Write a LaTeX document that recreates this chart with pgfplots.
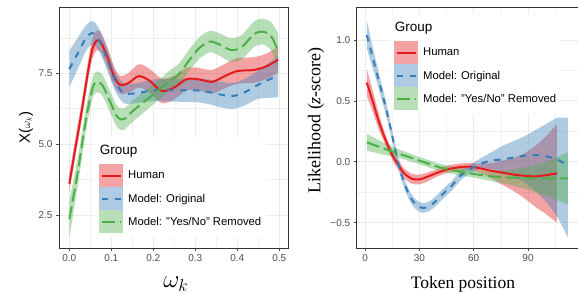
\documentclass[border=0pt]{standalone}
\usepackage{pgfplots}
\pgfplotsset{compat=1.18}
\usepgfplotslibrary{fillbetween}
\usepackage{fontspec}
\setmainfont{Liberation Sans}
\newfontfamily\serifFont{Liberation Serif}
\definecolor{cred}{HTML}{E41A1C}
\definecolor{cblue}{HTML}{377EB8}
\definecolor{cgreen}{HTML}{4DAF4A}

% ---------- left panel data: x  y  lo  hi ----------
\pgfplotstableread{
x y lo hi
0     3.60 3.30 3.95
0.015 4.90 4.60 5.25
0.03  6.20 5.88 6.55
0.045 7.60 7.27 7.95
0.055 8.35 8.00 8.70
0.065 8.65 8.30 9.00
0.075 8.60 8.25 8.95
0.09  8.10 7.75 8.45
0.105 7.45 7.12 7.80
0.12  7.10 6.80 7.42
0.14  7.15 6.80 7.50
0.165 7.40 7.00 7.82
0.19  7.25 6.83 7.67
0.22  6.88 6.45 7.32
0.25  7.00 6.58 7.42
0.28  7.30 6.90 7.70
0.31  7.28 6.88 7.68
0.34  7.20 6.78 7.62
0.37  7.40 6.97 7.83
0.40  7.58 7.13 8.03
0.44  7.62 7.17 8.07
0.47  7.75 7.30 8.20
0.497 7.98 7.52 8.44
}\humL
\pgfplotstableread{
x y lo hi
0     7.65 7.00 8.30
0.02  8.20 7.65 8.75
0.04  8.75 8.30 9.20
0.055 8.92 8.50 9.34
0.07  8.70 8.30 9.10
0.09  8.00 7.62 8.38
0.11  7.20 6.85 7.55
0.13  6.80 6.45 7.15
0.16  6.80 6.45 7.15
0.20  6.90 6.52 7.28
0.25  6.90 6.50 7.30
0.30  6.90 6.48 7.32
0.33  6.85 6.42 7.28
0.36  6.75 6.30 7.20
0.39  6.70 6.24 7.16
0.42  6.85 6.38 7.32
0.45  7.10 6.60 7.60
0.497 7.42 6.65 8.10
}\oriL
\pgfplotstableread{
x y lo hi
0     2.35 1.70 3.00
0.02  4.00 3.50 4.50
0.04  5.90 5.50 6.30
0.055 6.95 6.58 7.32
0.065 7.20 6.83 7.57
0.08  7.05 6.68 7.42
0.10  6.40 6.03 6.77
0.115 5.95 5.58 6.32
0.13  5.88 5.50 6.26
0.15  6.15 5.78 6.52
0.17  6.40 6.03 6.77
0.20  6.75 6.40 7.10
0.22  7.00 6.65 7.35
0.24  7.25 6.89 7.61
0.26  7.45 7.08 7.82
0.285 7.95 7.57 8.33
0.31  8.40 8.02 8.78
0.335 8.62 8.24 9.00
0.36  8.50 8.10 8.90
0.385 8.32 7.90 8.74
0.41  8.42 7.99 8.85
0.44  8.88 8.43 9.33
0.46  8.97 8.52 9.42
0.48  8.82 8.32 9.32
0.497 8.30 7.68 8.92
}\remL

% ---------- right panel data ----------
\pgfplotstableread{
x y lo hi
1   0.65 0.54 0.76
4   0.51 0.42 0.60
7   0.36 0.29 0.43
10  0.23 0.18 0.28
13  0.12 0.08 0.16
16  0.03 -0.01 0.07
19  -0.04 -0.08 0.00
22  -0.10 -0.14 -0.06
26  -0.14 -0.18 -0.10
30  -0.145 -0.185 -0.105
34  -0.125 -0.165 -0.09
40  -0.09 -0.12 -0.06
46  -0.06 -0.09 -0.03
52  -0.045 -0.075 -0.015
58  -0.04 -0.07 -0.01
64  -0.055 -0.095 -0.015
70  -0.075 -0.14 -0.01
76  -0.09 -0.19 0.01
82  -0.105 -0.24 0.03
88  -0.115 -0.30 0.07
94  -0.12 -0.37 0.13
100 -0.11 -0.43 0.21
106 -0.095 -0.50 0.31
}\humR
\pgfplotstableread{
x y lo hi
1   1.04 0.93 1.16
4   0.87 0.78 0.96
7   0.70 0.63 0.77
10  0.53 0.47 0.59
13  0.35 0.30 0.40
16  0.145 0.105 0.185
19  -0.05 -0.09 -0.01
22  -0.19 -0.23 -0.15
25  -0.29 -0.33 -0.25
28  -0.35 -0.39 -0.31
32  -0.38 -0.42 -0.34
36  -0.36 -0.40 -0.32
40  -0.31 -0.35 -0.27
44  -0.25 -0.29 -0.21
48  -0.195 -0.235 -0.155
53  -0.11 -0.15 -0.07
58  -0.06 -0.095 -0.025
64  -0.015 -0.06 0.03
70  0.01 -0.06 0.08
76  0.02 -0.09 0.13
82  0.035 -0.12 0.17
88  0.05 -0.17 0.21
94  0.055 -0.24 0.26
100 0.045 -0.33 0.31
106 0.02 -0.45 0.36
112 -0.03 -0.62 0.36
}\oriR
\pgfplotstableread{
x y lo hi
1   0.16 0.09 0.23
10  0.11 0.06 0.16
20  0.06 0.025 0.095
30  0.01 -0.02 0.04
40  -0.04 -0.07 -0.01
50  -0.075 -0.105 -0.045
60  -0.10 -0.13 -0.07
70  -0.12 -0.16 -0.08
80  -0.13 -0.19 -0.07
90  -0.135 -0.23 -0.04
100 -0.137 -0.28 0.00
112 -0.137 -0.35 0.08
}\remR

\pgfplotsset{
  ggstyle/.style={
    scale only axis,
    axis line style={black!80, line width=0.8pt},
    axis background/.style={fill=white},
    grid=both,
    major grid style={gray!16, line width=0.9pt},
    minor grid style={gray!12, line width=0.5pt},
    tick align=outside, tick pos=left,
    major tick length=3pt, minor tick length=0pt,
    tick style={black!70, line width=0.6pt},
    ticklabel style={font=\fontsize{10}{11}\selectfont, text=black!70},
    /pgf/number format/assume math mode=true,
    legend cell align=left,
    legend style={draw=none, fill=white, inner sep=4pt, row sep=0pt,
      column sep=4pt, font=\fontsize{11.3}{12}\selectfont,
      nodes={inner sep=1pt}},
  },
  redkey/.style={legend image code/.code={
      \fill[cred!40, draw=none] (0pt,-11.5pt) rectangle (24pt,11.5pt);
      \draw[cred, line width=2pt] (2.5pt,0pt) -- (21.5pt,0pt);}},
  bluekey/.style={legend image code/.code={
      \fill[cblue!40, draw=none] (0pt,-11.5pt) rectangle (24pt,11.5pt);
      \draw[cblue, line width=2pt, dash pattern=on 6.5pt off 6.5pt] (2.5pt,0pt) -- (21.5pt,0pt);}},
  greenkey/.style={legend image code/.code={
      \fill[cgreen!40, draw=none] (0pt,-11.5pt) rectangle (24pt,11.5pt);
      \draw[cgreen, line width=2pt, dash pattern=on 13pt off 5pt] (2.5pt,0pt) -- (21.5pt,0pt);}},
  titlekey/.style={legend image code/.code={
      \path[draw=none, fill=none] (0pt,-10pt) rectangle (24pt,13pt);
      \node[overlay, draw=none, fill=none, anchor=base west, inner sep=0pt, font=\fontsize{13.5}{15}\selectfont] at (0.5pt,0pt) {Group};}},
}

\newcommand{\ribbon}[3]{% table, color, name
  \addplot[name path=#3u, draw=none, forget plot, smooth] table[x=x,y=hi]{#1};
  \addplot[name path=#3l, draw=none, forget plot, smooth] table[x=x,y=lo]{#1};
  \addplot[fill=#2, fill opacity=0.4, draw=none, forget plot] fill between[of=#3u and #3l];
}

\begin{document}
\begin{tikzpicture}

% ================= LEFT =================
\begin{axis}[ggstyle,
  at={(59pt,46pt)}, anchor=south west,
  width=229pt, height=241pt,
  xmin=-0.0245, xmax=0.5207, ymin=1.336, ymax=9.84,
  xtick={0,0.1,0.2,0.3,0.4,0.5}, xticklabels={0.0,0.1,0.2,0.3,0.4,0.5},
  ytick={2.5,5,7.5}, yticklabels={2.5,5.0,7.5},
  minor xtick={0.05,0.15,0.25,0.35,0.45},
  minor ytick={3.75,6.25,8.75},
  xlabel={$\omega_k$},
  xlabel style={font=\fontsize{23}{25}\selectfont, at={(axis description cs:0.51,-0.15)}, anchor=center},
  ylabel={X({\fontsize{10.5}{12}\selectfont$\omega_k$})},
  ylabel style={font=\fontsize{15}{17}\selectfont, at={(axis description cs:-0.144,0.5)}, anchor=center},
  legend style={at={(axis description cs:0.157,0.46)}, anchor=north west},
]
\addlegendimage{titlekey}\addlegendentry{}
\addlegendimage{redkey}\addlegendentry{Human}
\addlegendimage{bluekey}\addlegendentry{Model: Original}
\addlegendimage{greenkey}\addlegendentry{Model: "Yes/No" Removed}

\ribbon{\humL}{cred}{ha}
\addplot[cred, line width=2pt, smooth, forget plot] table[x=x,y=y]{\humL};
\ribbon{\oriL}{cblue}{oa}
\addplot[cblue, line width=2pt, smooth, dash pattern=on 6.5pt off 6.5pt, forget plot] table[x=x,y=y]{\oriL};
\ribbon{\remL}{cgreen}{ra}
\addplot[cgreen, line width=2pt, smooth, dash pattern=on 13pt off 5pt, forget plot] table[x=x,y=y]{\remL};
\end{axis}

% ================= RIGHT =================
\begin{axis}[ggstyle,
  at={(356.7pt,46pt)}, anchor=south west,
  width=221.3pt, height=241pt,
  xmin=-4.6, xmax=117.6, ymin=-0.708, ymax=1.271,
  xtick={0,30,60,90}, xticklabels={0,30,60,90},
  ytick={-0.5,0,0.5,1}, yticklabels={−0.5,0.0,0.5,1.0},
  minor xtick={15,45,75,105},
  minor ytick={-0.25,0.25,0.75},
  xlabel={Token position},
  xlabel style={font=\serifFont\fontsize{17.5}{19}\selectfont, at={(axis description cs:0.48,-0.15)}, anchor=center},
  ylabel={Likelihood ({\itshape z}-score)},
  ylabel style={font=\serifFont\fontsize{18}{20}\selectfont, at={(axis description cs:-0.184,0.53)}, anchor=center},
  legend style={at={(axis description cs:0.15,0.971)}, anchor=north west},
]
\addlegendimage{titlekey}\addlegendentry{}
\addlegendimage{redkey}\addlegendentry{Human}
\addlegendimage{bluekey}\addlegendentry{Model: Original}
\addlegendimage{greenkey}\addlegendentry{Model: "Yes/No" Removed}

\ribbon{\humR}{cred}{hb}
\addplot[cred, line width=2pt, smooth, forget plot] table[x=x,y=y]{\humR};
\ribbon{\oriR}{cblue}{ob}
\addplot[cblue, line width=2pt, smooth, dash pattern=on 6.5pt off 6.5pt, forget plot] table[x=x,y=y]{\oriR};
\ribbon{\remR}{cgreen}{rb}
\addplot[cgreen, line width=2pt, smooth, dash pattern=on 13pt off 5pt, forget plot] table[x=x,y=y]{\remR};
\end{axis}

\pgfresetboundingbox
\path[use as bounding box] (0,0) rectangle (578pt,294pt);
\end{tikzpicture}
\end{document}
